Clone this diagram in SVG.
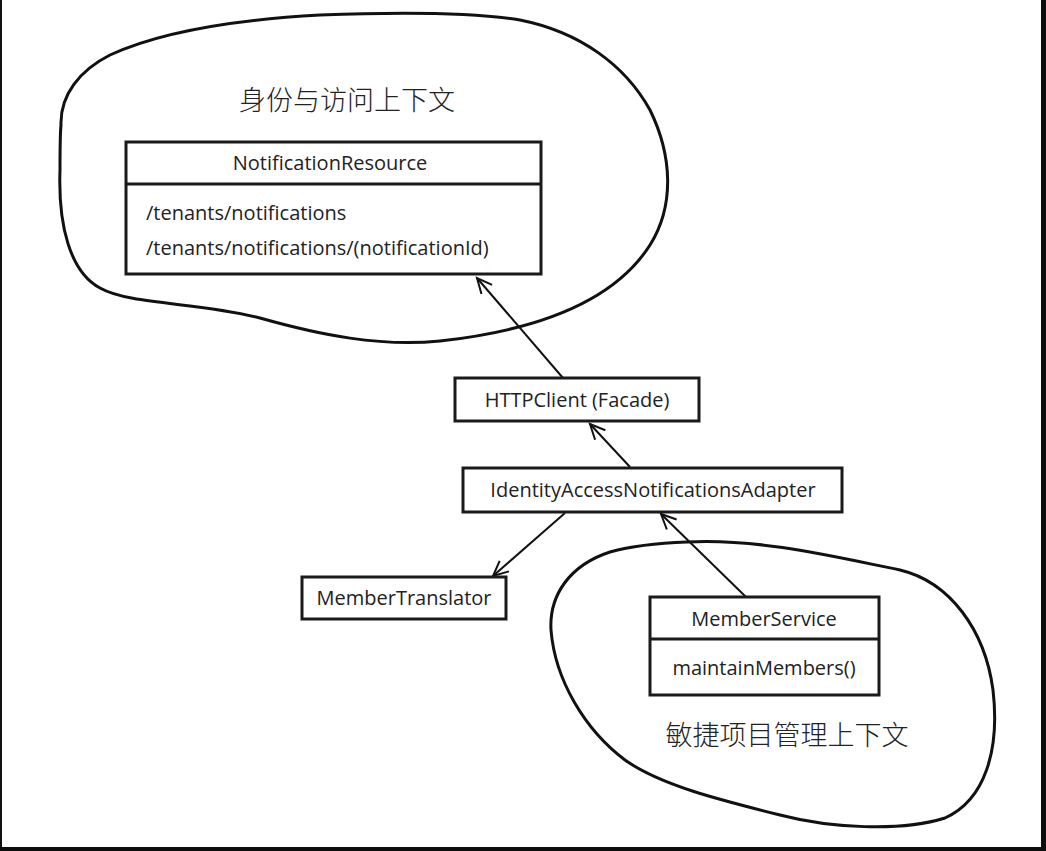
<svg xmlns="http://www.w3.org/2000/svg" width="1046" height="851" viewBox="0 0 1046 851">
<style>
.box{fill:#fff;stroke:#1a1a1a;stroke-width:3}
.cloud{fill:none;stroke:#111;stroke-width:3}
.t{font-family:"Open Sans","Liberation Sans",sans-serif;font-size:20px;fill:#222}
.m{text-anchor:middle}
.cjk{font-family:"Noto Sans CJK SC","Noto Sans",sans-serif;font-size:27px;fill:#222;font-weight:300}
.conn{fill:none;stroke:#111;stroke-width:2}
</style>
<defs>
<marker id="arr" markerUnits="userSpaceOnUse" markerWidth="20" markerHeight="20" refX="0" refY="0" orient="auto" viewBox="-16 -10 20 20" overflow="visible">
<path d="M -15,-7 L 0,0 L -15,7" fill="none" stroke="#111" stroke-width="2"/>
</marker>
</defs>
<rect x="0" y="0" width="1046" height="851" fill="#fff"/>
<rect x="0" y="0" width="2" height="851" fill="#111"/>
<rect x="1041" y="0" width="5" height="851" fill="#0d0d0d"/>
<rect x="0" y="847" width="1046" height="4" fill="#0d0d0d"/>

<g id="ctx-identity">
<path class="cloud" d="M 61,125 C 60,95 80,70 110,55 C 160,32 230,20 320,15 C 400,12 470,12 520,20 C 580,32 625,65 650,110 C 672,155 675,205 650,245 C 615,300 540,330 440,341 C 380,347 320,335 260,318 C 200,302 130,305 100,288 C 70,272 58,225 60,170 C 60,150 60,135 61,125 Z"/>
<text class="cjk" x="347" y="110" text-anchor="middle">身份与访问上下文</text>
</g>

<g id="ctx-agile">
<path class="cloud" d="M 687,542 C 760,538 840,558 900,570 C 950,582 985,630 993,690 C 1000,750 985,800 945,818 C 900,832 830,828 780,815 C 720,800 660,785 625,760 C 585,730 555,680 551,630 C 549,595 570,565 610,552 C 635,545 660,543 687,542 Z"/>
<text class="cjk" x="787" y="745" text-anchor="middle">敏捷项目管理上下文</text>
</g>

<g id="connectors">
<line class="conn" x1="563" y1="378" x2="477" y2="278" marker-end="url(#arr)"/>
<line class="conn" x1="630" y1="467" x2="590" y2="424" marker-end="url(#arr)"/>
<line class="conn" x1="565" y1="513" x2="493" y2="576" marker-end="url(#arr)"/>
<line class="conn" x1="746" y1="597" x2="661" y2="514" marker-end="url(#arr)"/>
</g>

<g id="NotificationResource">
<rect class="box" x="126" y="142" width="415" height="132"/>
<line class="box" x1="126" y1="184" x2="541" y2="184"/>
<text class="t m" x="330" y="170">NotificationResource</text>
<text class="t" x="146" y="220">/tenants/notifications</text>
<text class="t" x="146" y="255">/tenants/notifications/(notificationId)</text>
</g>

<g id="HTTPClient">
<rect class="box" x="455" y="378" width="244" height="43"/>
<text class="t m" x="577" y="407">HTTPClient (Facade)</text>
</g>

<g id="IdentityAccessNotificationsAdapter">
<rect class="box" x="463" y="468" width="379" height="44"/>
<text class="t m" x="653" y="497">IdentityAccessNotificationsAdapter</text>
</g>

<g id="MemberTranslator">
<rect class="box" x="302" y="577" width="204" height="42"/>
<text class="t m" x="404" y="605">MemberTranslator</text>
</g>

<g id="MemberService">
<rect class="box" x="650" y="597" width="229" height="98"/>
<line class="box" x1="650" y1="639" x2="879" y2="639"/>
<text class="t m" x="764" y="626">MemberService</text>
<text class="t m" x="764" y="675">maintainMembers()</text>
</g>
</svg>
